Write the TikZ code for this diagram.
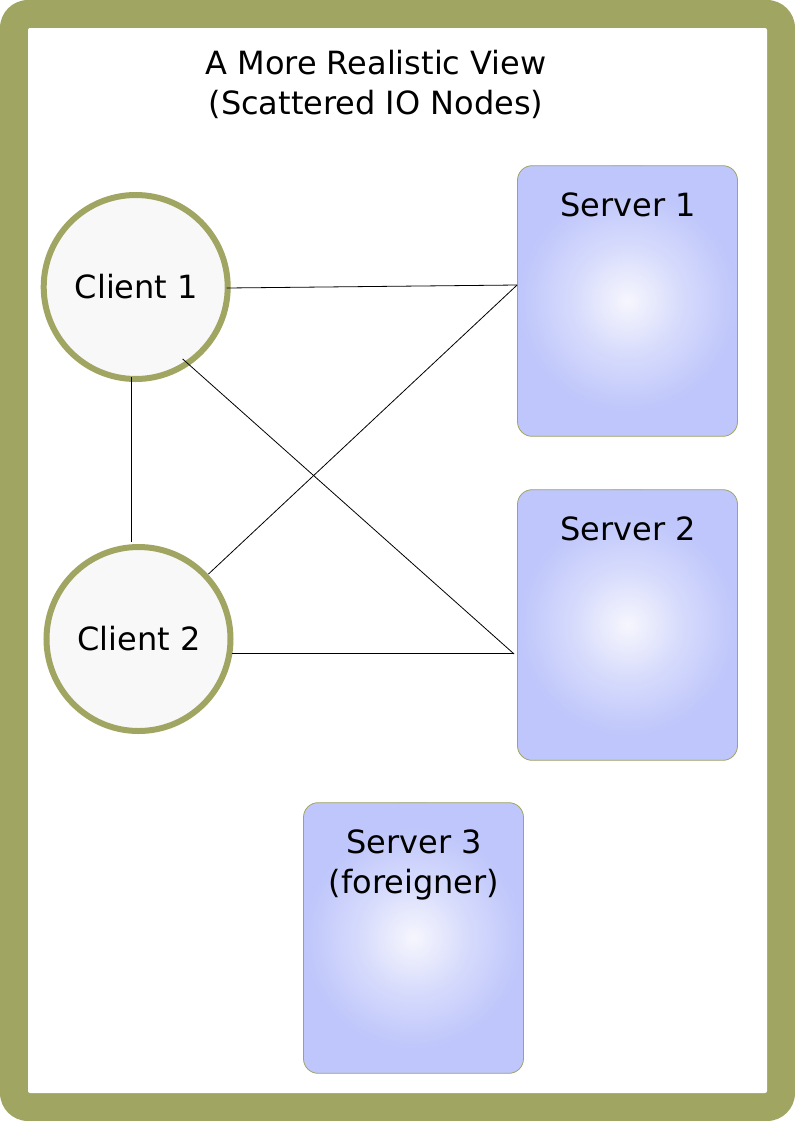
\documentclass[tikz,border=0pt]{standalone}
\usepackage{fontspec}
\setmainfont{DejaVu Sans}
\definecolor{olive}{HTML}{A0A562}
\definecolor{srvblue}{HTML}{BEC6FB}
\definecolor{srvlight}{HTML}{F6F6FD}
\definecolor{cfill}{HTML}{F8F8F8}
\pgfdeclareradialshading{srvglow}{\pgfpoint{0bp}{0bp}}{
  color(0bp)=(srvlight);
  color(3.3bp)=(srvlight!82!srvblue);
  color(10.5bp)=(srvlight!42!srvblue);
  color(20.5bp)=(srvblue);
  color(50bp)=(srvblue)}
\newcommand{\clienttext}[1]{\hspace{1pt}\raisebox{-3.5pt}{#1}}
\tikzset{
  x=0.75pt,y=-0.75pt,
  txt/.style={font=\fontsize{24pt}{30pt}\selectfont,text=black,inner sep=0pt,align=center},
  client/.style={circle,draw=olive,line width=4.5pt,fill=cfill,minimum size=138pt,inner sep=0pt,font=\fontsize{24pt}{30pt}\selectfont},
  server/.style={rectangle,rounded corners=11pt,draw=olive,line width=0.6pt,fill=srvblue,
    minimum width=165pt,minimum height=203pt,inner sep=0pt,
    path picture={\shade[shading=srvglow] ([yshift=2pt]path picture bounding box.center) circle (100pt);}},
  wire/.style={draw=black,line width=0.6pt}
}
\begin{document}
\begin{tikzpicture}
\useasboundingbox (0,0) rectangle (795,1121);
\fill[white] (0,0) rectangle (795,1121);
\fill[olive,rounded corners=21pt] (0,0) rectangle (795,1121);
\fill[white,rounded corners=1.5pt] (28,28) rectangle (767,1093);
\node[txt,anchor=north] (title) at (376,50) {A More Realistic View\\(Scattered IO Nodes)};
\node[client] (c1) at (135.7,287) {\clienttext{Client 1}};
\node[client] (c2) at (138.5,639) {\clienttext{Client 2}};
\node[server] (s1) at (627.5,301) {};
\node[server] (s2) at (627.5,625) {};
\node[server] (s3) at (413.5,938) {};
\node[txt,anchor=north] (s1t) at (628,192) {Server 1};
\node[txt,anchor=north] (s2t) at (628,516) {Server 2};
\node[txt,anchor=north] (s3t) at (414,829) {Server 3\\(foreigner)};
\draw[wire] ([shift={(-4,1)}]c1.east) -- ([shift={(0,-16)}]s1.west);
\draw[wire] ([shift={(-4.7,-5)}]c1.south) -- ([shift={(-7.5,-2)}]c2.north);
\draw[wire] ([shift={(-48,72)}]c1.east) -- ([shift={(-3,29)}]s2.west);
\draw[wire] ([shift={(-25,-65)}]c2.east) -- ([shift={(0,-16)}]s1.west);
\draw[wire] ([shift={(-2,14.5)}]c2.east) -- ([shift={(-3,28.5)}]s2.west);
\end{tikzpicture}
\end{document}
